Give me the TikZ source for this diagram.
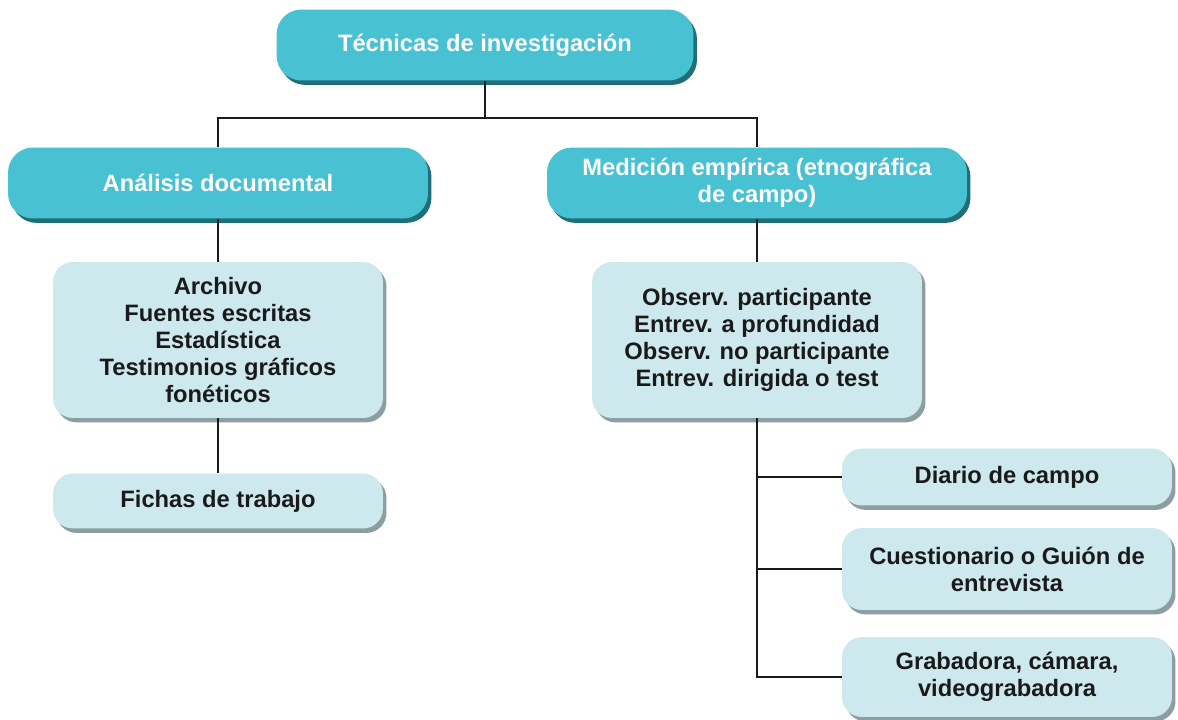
\documentclass[tikz,border=0pt]{standalone}
\usepackage{fontspec}
\setmainfont{Liberation Sans}
\usepackage{tikz}
\usetikzlibrary{shadows}
\usetikzlibrary{positioning}
\usepackage{xcolor}
\definecolor{tealbox}{HTML}{48C2D3}
\definecolor{tealshade}{HTML}{1F6F79}
\definecolor{lightbox}{HTML}{CDE9EE}
\definecolor{lightshade}{HTML}{8C9EA2}
\definecolor{boxtext}{HTML}{1A1A1A}

\begin{document}
\begin{tikzpicture}[
  x=0.02cm, y=-0.02cm,
  every node/.style={font=\bfseries\fontsize{13.5}{15.3}\selectfont},
  head/.style={rounded corners=0.5cm, fill=tealbox, text=white, align=center,
    minimum width=8.4cm, minimum height=1.42cm, inner sep=2pt,
    drop shadow={shadow xshift=2pt, shadow yshift=-2.5pt, fill=tealshade, opacity=1}},
  item/.style={rounded corners=0.4cm, fill=lightbox, text=boxtext, align=center,
    minimum width=6.6cm, inner sep=2pt,
    drop shadow={shadow xshift=2pt, shadow yshift=-2.5pt, fill=lightshade, opacity=1}},
  link/.style={draw=boxtext, line width=0.8pt}
]
\useasboundingbox (0,0) rectangle (1178,720);

\node [head, minimum width=8.34cm] (top) at (485,45) {Técnicas de investigación};
\node [head] (ana) at (218,183) {Análisis documental};
\node [head] (med) at (757,183) {Medición empírica (etnográfica\\de campo)};

\node [item, minimum height=3.12cm] (arch) at (218,340)
  {Archivo\\Fuentes escritas\\Estadística\\Testimonios gráficos\\fonéticos};
\node [item, minimum height=1.1cm] (fich) at (218,501) {Fichas de trabajo};

\node [item, minimum height=3.12cm] (obs) at (757,340)
  {Observ. participante\\Entrev. a profundidad\\Observ. no participante\\Entrev. dirigida o test};
\node [item, minimum height=1.14cm] (diar) at (1007,477) {Diario de campo};
\node [item, minimum height=1.64cm] (cues) at (1007,569) {Cuestionario o Guión de\\entrevista};
\node [item, minimum height=1.6cm] (grab) at (1007,677) {Grabadora, cámara,\\videograbadora};

\coordinate (bar) at (485,118);

\draw [link] (top.south) -- (bar);
\draw [link] (ana.north) |- (bar) -| (med.north);
\draw [link] (ana.south) -- (arch.north);
\draw [link] (arch.south) -- (fich.north);
\draw [link] (med.south) -- (obs.north);
\draw [link] (obs.south) |- (diar.west);
\draw [link] (obs.south) |- (cues.west);
\draw [link] (obs.south) |- (grab.west);
\end{tikzpicture}
\end{document}
